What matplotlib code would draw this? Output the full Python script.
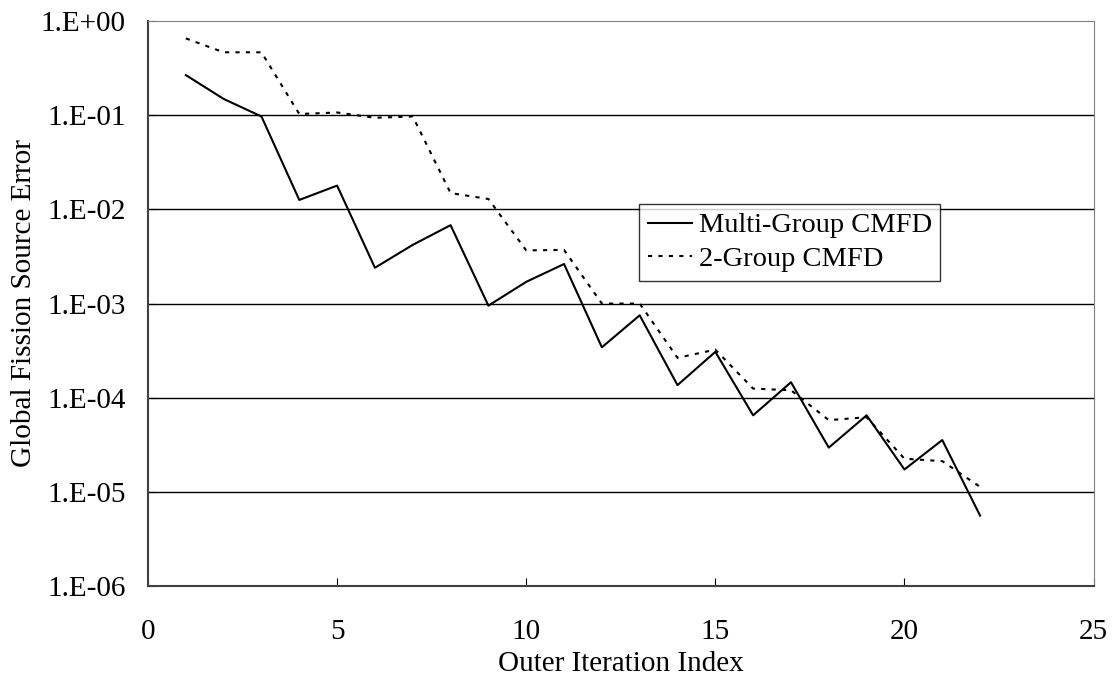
import numpy as np
import matplotlib
matplotlib.use("Agg")
import matplotlib.pyplot as plt

plt.rcParams['font.family'] = ['Liberation Serif', 'DejaVu Serif']

# outer iteration index
iters = list(range(1, 23))

# global fission source error
multi_group = [0.267, 0.149, 0.097, 0.0126, 0.0179, 0.0024, 0.0042, 0.0068,
               0.00095, 0.0017, 0.00263, 0.000343, 0.00075, 0.000136, 0.000307,
               6.5e-5, 1.46e-4, 2.95e-5, 6.5e-5, 1.73e-5, 3.55e-5, 5.6e-6]
two_group = [0.655, 0.466, 0.466, 0.103, 0.107, 0.094, 0.097, 0.0149,
             0.0129, 0.00367, 0.00371, 0.001, 0.001, 0.000265, 0.000324,
             1.25e-4, 1.2e-4, 5.78e-5, 6.2e-5, 2.25e-5, 2.12e-5, 1.13e-5]

y_ticks = [1e0, 1e-1, 1e-2, 1e-3, 1e-4, 1e-5, 1e-6]
y_labels = ["1.E+00", "1.E-01", "1.E-02", "1.E-03", "1.E-04", "1.E-05", "1.E-06"]
x_ticks = [0, 5, 10, 15, 20, 25]

fig = plt.figure(figsize=(11.17, 6.8), dpi=100)
ax = fig.add_axes([0.1325, 0.1382, 0.8465, 0.8308])

ax.plot(iters, multi_group, color="black", lw=1.5, label="Multi-Group CMFD")
ax.plot(iters, two_group, color="black", lw=1.5, linestyle=(0, (2, 3)),
        label="2-Group CMFD")

ax.set_yscale("log")
ax.set_ylim(1e-6, 1e0)
ax.set_xlim(0, 25)
ax.set_yticks(y_ticks)
ax.set_yticklabels(y_labels)
ax.minorticks_off()
ax.set_xticks(x_ticks)

for v in y_ticks[1:-1]:
    ax.axhline(v, color="black", lw=1.0, zorder=0)

for side in ["top", "right"]:
    ax.spines[side].set_color("#808080")
for side in ["left", "bottom"]:
    ax.spines[side].set_color("#404040")
    ax.spines[side].set_linewidth(1.5)

ax.tick_params(axis="x", direction="in", length=6, pad=24, labelsize=21)
ax.tick_params(axis="y", direction="in", length=6, pad=16, labelsize=21)

ax.set_xlabel("Outer Iteration Index", fontsize=21, labelpad=4)
ax.set_ylabel("Global Fission Source Error", fontsize=21, labelpad=3)

leg = ax.legend(loc="upper left", bbox_to_anchor=(639 / 1117, 1 - 204 / 680),
                bbox_transform=fig.transFigure, fontsize=20.5, frameon=True,
                fancybox=False, edgecolor="black", handlelength=1.55,
                handletextpad=0.25, labelspacing=0.28, borderpad=0.3,
                borderaxespad=0)
leg.get_frame().set_linewidth(1.0)

fig.savefig("out.png", dpi=100)
